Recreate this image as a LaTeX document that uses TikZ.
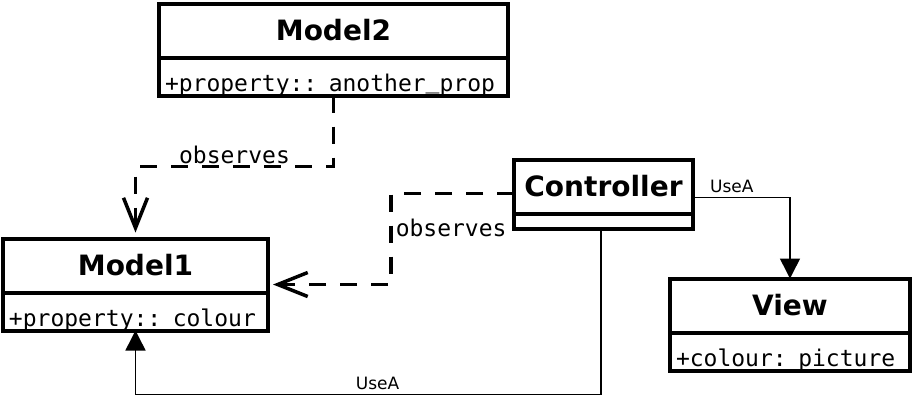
\documentclass[tikz,border=0pt]{standalone}
\usepackage{fontspec}
\setmainfont{DejaVu Sans}
\setmonofont{DejaVu Sans Mono}
\usetikzlibrary{arrows.meta, positioning, calc}

\tikzset{
  classname/.style={draw, line width=4pt, outer sep=0pt, inner sep=0pt,
    minimum height=54pt, font=\fontsize{28}{30}\selectfont\bfseries},
  classattr/.style={draw, line width=4pt, outer sep=0pt, inner xsep=6pt, inner ysep=0pt,
    text height=34pt, text depth=4pt, align=left, font=\ttfamily\fontsize{23}{25}\selectfont},
  monolabel/.style={font=\ttfamily\fontsize{23}{25}\selectfont},
  uselabel/.style={font=\fontsize{17}{19}\selectfont}
}

\begin{document}
\begin{tikzpicture}[x=1pt, y=-1pt,
  observes/.style={line width=3.5pt, dash pattern=on 17pt off 14pt,
    -{Straight Barb[length=30pt,width=24pt]}},
  usea/.style={line width=1.5pt, -{Triangle[length=20pt,width=20pt]}}]
  \useasboundingbox (0,0) rectangle (914,400);

  % classes
  \node[classname, minimum width=349pt] (model2) at (333.5,30.5) {Model2};
  \node[classattr, text width=337pt, below=0pt of model2] (model2attr) {+property:: another\raisebox{3pt}{\_}prop};

  \node[classname, minimum width=265pt] (model1) at (135.5,265.5) {Model1};
  \node[classattr, text width=253pt, below=0pt of model1] (model1attr) {+property:: colour};

  \node[classname, minimum width=179pt] (controller) at (603.5,186.5) {Controller};
  \node[classattr, text width=167pt, text height=11pt, below=0pt of controller] (controllerattr) {};

  \node[classname, minimum width=240pt] (view) at (790,305.5) {View};
  \node[classattr, text width=228pt, below=0pt of view] (viewattr) {+colour: picture};

  % relations
  \draw[observes, shorten >=6pt] (model2attr.south) -- ++(0,71)
    -| node[pos=0.25, above, inner sep=1pt, monolabel] (obs1) {observes} (model1.north);
  \draw[observes, shorten >=5pt] ([yshift=20pt]controller.south west) -- ++(-123,0)
    |- node[pos=0.19, right, inner sep=3pt, monolabel] (obs2) {observes} ([yshift=8pt]model1.south east);
  \draw[usea] ([yshift=16pt]controller.south east)
    -| node[pos=0.2, above, inner sep=4pt, uselabel] (use1) {UseA} (view.north);
  \draw[usea] ([xshift=-2.5pt]controllerattr.south) -- ++(0,166)
    -| node[pos=0.24, above, inner sep=4pt, uselabel] (use2) {UseA} (model1attr.south);
\end{tikzpicture}
\end{document}
